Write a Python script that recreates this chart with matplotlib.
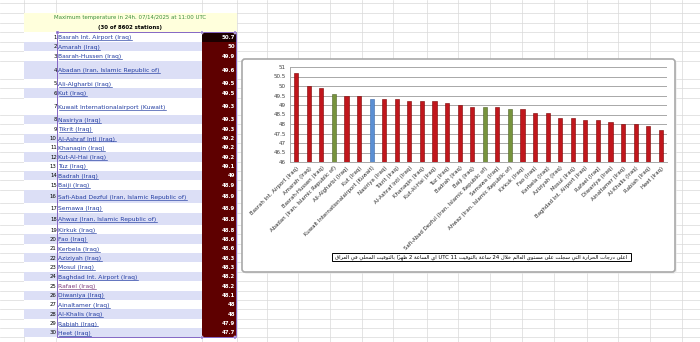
import matplotlib
matplotlib.use("Agg")
import matplotlib.pyplot as plt
from matplotlib.patches import Rectangle, FancyBboxPatch
import numpy as np

# ---------------- data ----------------
stations = [
    "Basrah Int. Airport (Iraq)", "Amarah (Iraq)", "Basrah-Hussen (Iraq)",
    "Abadan (Iran, Islamic Republic of)", "Ali-Algharbi (Iraq)", "Kut (Iraq)",
    "Kuwait Internationalairport (Kuwait)", "Nasiriya (Iraq)", "Tikrit (Iraq)",
    "Al-Ashraf Intl (Iraq)", "Khanaqin (Iraq)", "Kut-Al-Hai (Iraq)", "Tuz (Iraq)",
    "Badrah (Iraq)", "Baiji (Iraq)", "Safi-Abad Dezful (Iran, Islamic Republic of)",
    "Semawa (Iraq)", "Ahwaz (Iran, Islamic Republic of)", "Kirkuk (Iraq)", "Fao (Iraq)",
    "Kerbela (Iraq)", "Aziziyah (Iraq)", "Mosul (Iraq)", "Baghdad Int. Airport (Iraq)",
    "Rafael (Iraq)", "Diwaniya (Iraq)", "Ainaltamer (Iraq)", "Al-Khalis (Iraq)",
    "Rabiah (Iraq)", "Heet (Iraq)",
]
temps = [50.7, 50.0, 49.9, 49.6, 49.5, 49.5, 49.3, 49.3, 49.3, 49.2, 49.2, 49.2, 49.1,
         49.0, 48.9, 48.9, 48.9, 48.8, 48.8, 48.6, 48.6, 48.3, 48.3, 48.2, 48.2, 48.1,
         48.0, 48.0, 47.9, 47.7]
value_labels = ["50.7", "50", "49.9", "49.6", "49.5", "49.5", "49.3", "49.3", "49.3", "49.2",
                "49.2", "49.2", "49.1", "49", "48.9", "48.9", "48.9", "48.8", "48.8", "48.6",
                "48.6", "48.3", "48.3", "48.2", "48.2", "48.1", "48", "48", "47.9", "47.7"]
y_ticks = [46, 46.5, 47, 47.5, 48, 48.5, 49, 49.5, 50, 50.5, 51]
y_tick_labels = ["46", "46.5", "47", "47.5", "48", "48.5", "49", "49.5", "50", "50.5", "51"]
title_line1 = "Maximum temperature in 24h. 07/14/2025 at 11:00 UTC"
title_line2 = "(30 of 8602 stations)"
caption_ar = ("اعلى درجات الحرارة التي سجلت على مستوى العالم خلال 24 ساعة بالتوقيت "
              "UTC 11 اي الساعة 2 ظهراً بالتوقيت المحلي في العراق")

country_colors = {"Iraq": "#c0161c", "Iran, Islamic Republic of": "#77933c", "Kuwait": "#5b8fd3"}
country_edges = {"Iraq": "#7a0000", "Iran, Islamic Republic of": "#4f6228", "Kuwait": "#3a67a8"}

# ---------------- minimal Arabic shaping (presentation forms) ----------------
FORMS = {
    'ء': (0xFE80, None, None, None), 'آ': (0xFE81, 0xFE82, None, None),
    'أ': (0xFE83, 0xFE84, None, None), 'ؤ': (0xFE85, 0xFE86, None, None),
    'إ': (0xFE87, 0xFE88, None, None), 'ئ': (0xFE89, 0xFE8A, 0xFE8B, 0xFE8C),
    'ا': (0xFE8D, 0xFE8E, None, None), 'ب': (0xFE8F, 0xFE90, 0xFE91, 0xFE92),
    'ة': (0xFE93, 0xFE94, None, None), 'ت': (0xFE95, 0xFE96, 0xFE97, 0xFE98),
    'ث': (0xFE99, 0xFE9A, 0xFE9B, 0xFE9C), 'ج': (0xFE9D, 0xFE9E, 0xFE9F, 0xFEA0),
    'ح': (0xFEA1, 0xFEA2, 0xFEA3, 0xFEA4), 'خ': (0xFEA5, 0xFEA6, 0xFEA7, 0xFEA8),
    'د': (0xFEA9, 0xFEAA, None, None), 'ذ': (0xFEAB, 0xFEAC, None, None),
    'ر': (0xFEAD, 0xFEAE, None, None), 'ز': (0xFEAF, 0xFEB0, None, None),
    'س': (0xFEB1, 0xFEB2, 0xFEB3, 0xFEB4), 'ش': (0xFEB5, 0xFEB6, 0xFEB7, 0xFEB8),
    'ص': (0xFEB9, 0xFEBA, 0xFEBB, 0xFEBC), 'ض': (0xFEBD, 0xFEBE, 0xFEBF, 0xFEC0),
    'ط': (0xFEC1, 0xFEC2, 0xFEC3, 0xFEC4), 'ظ': (0xFEC5, 0xFEC6, 0xFEC7, 0xFEC8),
    'ع': (0xFEC9, 0xFECA, 0xFECB, 0xFECC), 'غ': (0xFECD, 0xFECE, 0xFECF, 0xFED0),
    'ف': (0xFED1, 0xFED2, 0xFED3, 0xFED4), 'ق': (0xFED5, 0xFED6, 0xFED7, 0xFED8),
    'ك': (0xFED9, 0xFEDA, 0xFEDB, 0xFEDC), 'ل': (0xFEDD, 0xFEDE, 0xFEDF, 0xFEE0),
    'م': (0xFEE1, 0xFEE2, 0xFEE3, 0xFEE4), 'ن': (0xFEE5, 0xFEE6, 0xFEE7, 0xFEE8),
    'ه': (0xFEE9, 0xFEEA, 0xFEEB, 0xFEEC), 'و': (0xFEED, 0xFEEE, None, None),
    'ى': (0xFEEF, 0xFEF0, None, None), 'ي': (0xFEF1, 0xFEF2, 0xFEF3, 0xFEF4),
}
LAMALEF = {'ا': (0xFEFB, 0xFEFC), 'أ': (0xFEF7, 0xFEF8), 'إ': (0xFEF9, 0xFEFA), 'آ': (0xFEF5, 0xFEF6)}


def is_mark(c):
    return 0x064B <= ord(c) <= 0x0652


def dual(c):
    return c in FORMS and FORMS[c][2] is not None


def shape_word(word):
    clusters = []
    for c in word:
        if is_mark(c) and clusters:
            clusters[-1][1].append(c)
        else:
            clusters.append([c, []])
    out = []
    prev_can_join = False  # whether previous glyph connects forward
    i = 0
    n = len(clusters)
    while i < n:
        base, marks = clusters[i]
        prev_joins = prev_can_join and base in FORMS
        if base == 'ل' and i + 1 < n and clusters[i + 1][0] in LAMALEF:
            iso, fin = LAMALEF[clusters[i + 1][0]]
            out.append((chr(fin if prev_joins else iso), marks + clusters[i + 1][1]))
            prev_can_join = False
            i += 2
            continue
        if base in FORMS:
            f = FORMS[base]
            nxt = clusters[i + 1][0] if i + 1 < n else None
            next_joins = dual(base) and nxt in FORMS
            if prev_joins and next_joins:
                g = f[3]
            elif prev_joins:
                g = f[1]
            elif next_joins:
                g = f[2]
            else:
                g = f[0]
            out.append((chr(g), marks))
            prev_can_join = dual(base)
        else:
            out.append((base, marks))
            prev_can_join = False
        i += 1
    return "".join(b + "".join(m) for b, m in reversed(out))


def visual_rtl(text):
    words = text.split(" ")
    runs = []
    for w in words:
        rtl = any('\u0600' <= c <= '\u06FF' for c in w)
        if not rtl and runs and runs[-1][0] == 'L':
            runs[-1][1].append(w)
        else:
            runs.append(['R' if rtl else 'L', [w]])
    vis = []
    for kind, ws in reversed(runs):
        if kind == 'R':
            for w in reversed(ws):
                vis.append(shape_word(w))
        else:
            vis.append(" ".join(ws))
    return " ".join(vis)


# ---------------- figure ----------------
W, H = 700, 342
fig = plt.figure(figsize=(7, 3.42), dpi=100)
fig.patch.set_facecolor("white")
bg = fig.add_axes([0, 0, 1, 1])
bg.set_xlim(0, W)
bg.set_ylim(H, 0)
bg.axis("off")

FONT = "DejaVu Sans"
FS = 3.9
FS_NAME = 4.35
grid_c = "#d9d9d9"

row_heights = [9.4, 9.3, 10.0, 18.0, 9.3, 9.4, 17.3, 9.3, 9.3, 9.3, 9.3, 9.3, 9.3, 9.3,
               9.9, 12.7, 10.3, 12.0, 9.4, 9.35, 9.35, 9.35, 9.35, 9.35, 9.35, 9.35,
               9.35, 9.35, 9.35, 9.35]
top0 = 32.3
bounds = [top0]
for h in row_heights:
    bounds.append(bounds[-1] + h)

# spreadsheet grid lines
hlines = [3.3, 12.7, 22.5] + bounds
for y in hlines:
    bg.plot([0, 24], [y, y], color=grid_c, lw=0.5, zorder=0)
    bg.plot([237, W], [y, y], color=grid_c, lw=0.5, zorder=0)
for y in [3.3, 12.7]:
    bg.plot([24, 237], [y, y], color=grid_c, lw=0.5, zorder=0)
bg.plot([24, 24], [0, H], color=grid_c, lw=0.5, zorder=0)
for xv in [56, 202]:
    bg.plot([xv, xv], [0, 12.7], color=grid_c, lw=0.5, zorder=0)
    bg.plot([xv, xv], [338, H], color=grid_c, lw=0.5, zorder=0)
for xv in [237, 267, 298, 330, 362, 393, 427, 458, 490, 522, 554, 587, 618, 650, 682]:
    bg.plot([xv, xv], [0, H], color=grid_c, lw=0.5, zorder=0)

# header
bg.add_patch(Rectangle((24, 12.7), 213, 19.6, facecolor="#ffffdc", edgecolor="none", zorder=1))
bg.text(130, 17.6, title_line1, ha="center", va="center", fontsize=FS, color="#3b8e3b",
        family=FONT, zorder=3)
bg.text(130, 27.0, title_line2, ha="center", va="center", fontsize=FS, color="black",
        family=FONT, fontweight="bold", zorder=3)

# table rows
for i, (name, val) in enumerate(zip(stations, value_labels)):
    y0, y1 = bounds[i], bounds[i + 1]
    yc = (y0 + y1) / 2 + 0.3
    fc = "#dcdff6" if i % 2 == 1 else "white"
    bg.add_patch(Rectangle((24, y0), 178, y1 - y0, facecolor=fc, edgecolor="none", zorder=1))
    cell = "#1c0000" if i == 0 else "#5e0000"
    bg.add_patch(Rectangle((202, y0), 35, y1 - y0, facecolor=cell, edgecolor="none", zorder=1))
    bg.text(56.8, yc, str(i + 1), ha="right", va="center", fontsize=FS, color="black",
            family=FONT, zorder=3)
    col = "#7b3b7b" if name.startswith("Rafael") else "#1f3aa0"
    t = bg.text(58.5, yc, name, ha="left", va="baseline", fontsize=FS_NAME, color=col,
                family=FONT, zorder=3, transform=bg.transData)
    t.set_y(yc + 2.0)
    bg.text(235.3, yc, val, ha="right", va="center", fontsize=FS, color="white",
            family=FONT, fontweight="bold", zorder=3)

name_text_objs = [t for t in bg.texts if t.get_position()[0] == 58.5]

# selection outline
sel_c = "#8466c4"
bg.plot([57.3, 57.3, 236, 236, 57.3], [bounds[0], bounds[-1], bounds[-1], bounds[0], bounds[0]],
        color=sel_c, lw=0.7, zorder=4)
for (hx, hy) in [(57.3, bounds[0]), (202, bounds[0]), (235, bounds[0]), (202, bounds[-1]),
                 (235, bounds[-1])]:
    bg.add_patch(Rectangle((hx - 1.3, hy - 1.3), 2.6, 2.6, facecolor=sel_c, edgecolor="white",
                           lw=0.3, zorder=5))

# chart frame
bg.add_patch(FancyBboxPatch((243.5, 60.5), 433, 213, boxstyle="round,pad=0,rounding_size=3",
                            facecolor="#e6e6e6", edgecolor="none", zorder=5))
bg.add_patch(FancyBboxPatch((242, 59), 433, 213, boxstyle="round,pad=0,rounding_size=3",
                            facecolor="white", edgecolor="#a9a9a9", lw=1.2, zorder=6))

# caption box (Arabic)
bg.add_patch(Rectangle((332, 252.7), 299, 8.2, facecolor="white", edgecolor="black",
                       lw=0.7, zorder=7))
bg.text(481.5, 257.0, visual_rtl(caption_ar), ha="center", va="center", fontsize=3.75,
        color="black", family="DejaVu Sans", zorder=8)

# chart axes
ax = fig.add_axes([290 / W, 1 - 162 / H, 377 / W, 95 / H], zorder=10)
ax.patch.set_alpha(0)
x = np.arange(len(stations))
countries = [s[s.index("(") + 1:-1] for s in stations]
ax.bar(x, temps, width=0.33,
       color=[country_colors[c] for c in countries],
       edgecolor=[country_edges[c] for c in countries], linewidth=0.4, zorder=3)
ax.set_xlim(-0.5, len(stations) - 0.5)
ax.set_ylim(46, 51)
ax.set_yticks(y_ticks)
ax.set_yticklabels(y_tick_labels, fontsize=4.1, color="#404040", family=FONT)
ax.yaxis.grid(True, color="#a8a8a8", lw=0.7)
ax.set_axisbelow(True)
ax.set_xticks(x)
ax.set_xticklabels(stations, rotation=45, ha="right", rotation_mode="anchor",
                   fontsize=3.9, color="#262626", family=FONT)
ax.tick_params(axis="x", length=0, pad=2.5)
ax.tick_params(axis="y", length=0, pad=3)
for s in ["top", "right"]:
    ax.spines[s].set_visible(False)
for s in ["left", "bottom"]:
    ax.spines[s].set_color("#a8a8a8")
    ax.spines[s].set_linewidth(0.7)

# underline hyperlinks
fig.canvas.draw()
r = fig.canvas.get_renderer()
for t in name_text_objs:
    bb = t.get_window_extent(r)
    yy = t.get_position()[1] + 0.9
    bg.plot([bb.x0, bb.x1], [yy, yy], color=t.get_color(), lw=0.45, zorder=3)

fig.savefig("out.png", dpi=100)
